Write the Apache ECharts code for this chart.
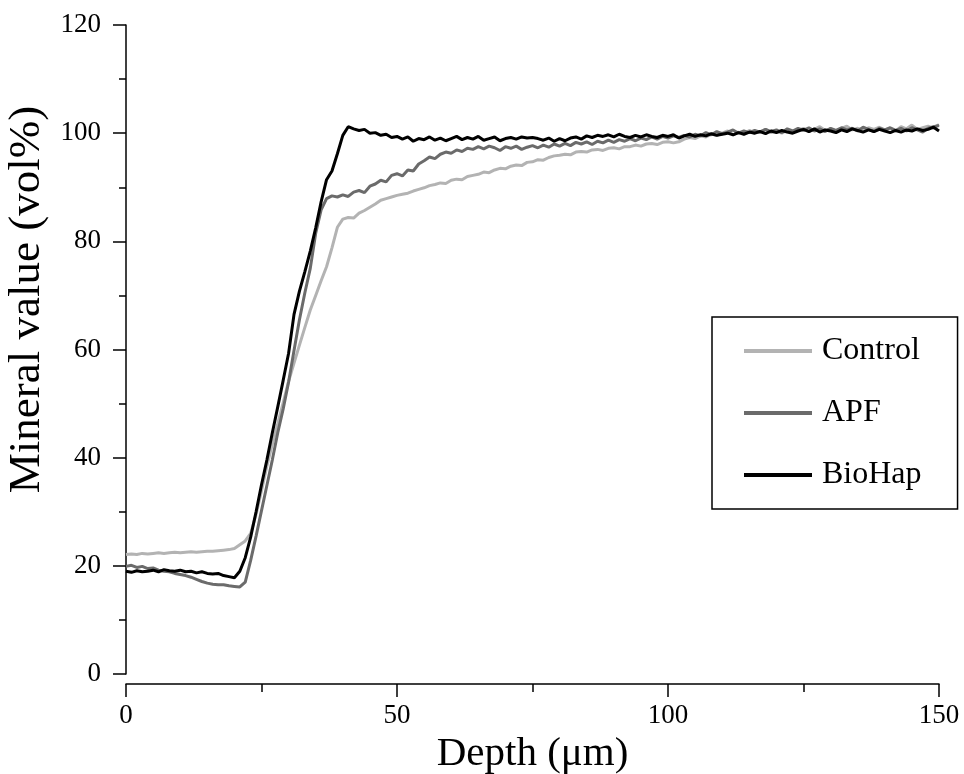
<!DOCTYPE html>
<html>
<head>
<meta charset="utf-8">
<script src="https://cdn.jsdelivr.net/npm/echarts@6/dist/echarts.min.js"></script>
<style>html,body{margin:0;padding:0;background:#fff;}#chart{width:964px;height:774px;}</style>
</head>
<body>
<div id="chart"></div>
<script>
// Depth (µm), one sample per µm
const depth = [];
for (let i = 0; i <= 150; i++) depth.push(i);

const control = [
22.1,22.2,22.1,22.3,22.2,22.3,22.4,22.3,22.4,22.5,
22.4,22.5,22.6,22.5,22.6,22.7,22.7,22.8,22.9,23.0,
23.2,23.9,24.6,26.0,29.5,33.9,38.5,42.5,46.3,50.2,
54.1,57.5,60.8,64.1,67.3,70.0,72.7,75.3,78.8,82.6,
84.1,84.4,84.3,85.2,85.7,86.3,86.9,87.6,87.9,88.2,
88.5,88.7,88.9,89.3,89.6,89.9,90.3,90.5,90.8,90.7,
91.3,91.5,91.4,92.0,92.2,92.4,92.8,92.7,93.2,93.5,
93.4,93.9,94.1,94.0,94.6,94.7,95.1,95.0,95.5,95.8,
95.9,96.1,96.0,96.5,96.6,96.5,96.9,97.0,96.8,97.2,
97.3,97.1,97.5,97.5,97.8,97.6,98.0,98.1,97.9,98.3,
98.4,98.2,98.4,98.9,99.2,99.0,99.5,99.3,99.8,99.6,
100.0,100.4,99.7,100.2,99.9,100.5,100.0,100.3,100.7,100.1,
100.4,100.0,100.6,100.2,100.5,100.9,100.3,100.7,101.2,100.5,
100.8,100.4,100.9,101.3,100.6,100.9,100.5,101.0,100.7,101.1,
100.6,100.9,100.4,101.2,100.8,101.5,100.7,101.0,101.3,100.9,
101.6
];

const apf = [
19.9,20.1,19.7,19.9,19.5,19.6,19.2,19.0,18.9,18.6,
18.4,18.2,17.9,17.5,17.1,16.8,16.6,16.5,16.5,16.3,
16.2,16.1,17.0,21.0,25.5,30.2,34.9,39.6,44.6,49.0,
54.0,59.8,65.5,70.5,75.0,81.5,85.8,87.9,88.4,88.2,
88.6,88.3,89.1,89.4,89.0,90.2,90.6,91.3,91.0,92.2,
92.5,92.1,93.2,93.0,94.3,94.9,95.6,95.3,96.1,96.5,
96.3,96.9,96.6,97.2,97.0,97.5,97.1,97.6,97.3,96.8,
97.5,97.2,97.6,97.0,97.4,97.7,97.3,97.8,97.4,98.0,
97.6,98.1,97.7,98.3,98.0,98.4,97.9,98.5,98.2,98.7,
98.3,98.8,98.5,99.0,98.6,99.1,98.8,99.3,98.9,99.4,
99.1,99.5,99.2,99.6,99.3,99.8,99.5,100.1,99.7,100.3,
99.9,100.2,100.6,100.0,100.4,100.1,100.5,100.2,100.7,100.3,
100.6,100.1,100.8,100.4,100.9,100.5,101.0,100.4,100.8,100.3,
100.9,100.5,101.0,100.6,100.9,100.4,101.1,100.7,100.3,100.9,
100.6,101.0,100.5,100.9,100.4,101.0,100.6,100.2,100.9,101.2,
101.4
];

const biohap = [
19.0,18.8,19.1,18.9,19.0,19.2,18.9,19.3,19.1,19.0,
19.2,18.9,19.0,18.7,18.9,18.6,18.5,18.6,18.2,18.0,
17.8,19.0,21.5,25.3,30.0,35.0,39.6,44.6,49.4,54.3,
59.3,66.5,70.8,74.4,78.2,82.5,87.3,91.4,93.0,96.2,
99.6,101.2,100.8,100.5,100.7,100.0,100.1,99.6,99.8,99.2,
99.4,98.9,99.3,98.5,99.0,98.8,99.3,98.7,99.1,98.6,
99.0,99.4,98.8,99.2,98.9,99.4,98.7,99.0,99.3,98.6,
99.0,99.2,98.9,99.3,99.1,99.2,99.0,98.7,99.1,98.5,
99.0,98.6,99.1,99.3,98.9,99.5,99.2,99.6,99.4,99.7,
99.3,99.8,99.4,99.2,99.6,99.3,99.7,99.4,99.2,99.6,
99.4,99.7,99.1,99.5,99.8,99.4,99.7,99.5,99.9,99.6,
99.8,100.0,99.7,100.1,99.8,100.2,100.0,100.3,99.9,100.4,
100.1,100.5,100.2,100.0,100.4,100.7,100.3,100.8,100.2,100.6,
100.4,100.1,100.6,100.3,100.8,100.5,100.2,100.6,100.3,100.7,
100.4,100.1,100.5,100.2,100.6,100.4,100.8,100.5,100.7,101.1,
100.4
];

const seriesNames = ['Control', 'APF', 'BioHap'];
const seriesColors = ['#b3b3b3', '#6b6b6b', '#000000'];
const seriesValues = [control, apf, biohap];

const FONT = 'Liberation Serif';
const chart = echarts.init(document.getElementById('chart'), null, {renderer: 'canvas'});

chart.setOption({
  animation: false,
  backgroundColor: '#fff',
  grid: {left: 126, right: 25, top: 25, bottom: 100, containLabel: false, outerBoundsMode: 'none'},
  legend: {
    orient: 'vertical',
    left: 712,
    top: 317,
    padding: [16, 36, 16, 32],
    itemGap: 26,
    itemWidth: 68,
    itemHeight: 4,
    icon: 'rect',
    borderColor: '#000',
    borderWidth: 1.5,
    backgroundColor: '#fff',
    textStyle: {fontFamily: FONT, fontSize: 32, color: '#000', lineHeight: 36, padding: [0, 0, 0, 5]},
    data: seriesNames.map((n, k) => ({name: n, icon: 'rect', itemStyle: {color: seriesColors[k]}}))
  },
  xAxis: {
    type: 'value',
    min: 0, max: 150, interval: 50,
    offset: 10,
    name: 'Depth (μm)',
    nameLocation: 'middle',
    nameGap: 50,
    nameTextStyle: {fontFamily: FONT, fontSize: 41, color: '#000'},
    axisLine: {show: true, onZero: false, lineStyle: {color: '#000', width: 1.5}},
    axisTick: {show: true, inside: false, length: 13, lineStyle: {color: '#000', width: 1.5}},
    minorTick: {show: true, splitNumber: 2, length: 8, lineStyle: {color: '#000', width: 1.5}},
    axisLabel: {fontFamily: FONT, fontSize: 27, color: '#000', margin: 18},
    splitLine: {show: false},
    minorSplitLine: {show: false}
  },
  yAxis: {
    type: 'value',
    min: 0, max: 120, interval: 20,
    name: 'Mineral value (vol%)',
    nameLocation: 'middle',
    nameRotate: 90,
    nameGap: 75,
    nameTextStyle: {fontFamily: FONT, fontSize: 45, color: '#000', padding: [0, 0, 0, 100]},
    axisLine: {show: true, onZero: false, lineStyle: {color: '#000', width: 1.5}},
    axisTick: {show: true, inside: false, length: 13, lineStyle: {color: '#000', width: 1.5}},
    minorTick: {show: true, splitNumber: 2, length: 7, lineStyle: {color: '#000', width: 1.5}},
    axisLabel: {fontFamily: FONT, fontSize: 27, color: '#000', margin: 25},
    splitLine: {show: false},
    minorSplitLine: {show: false}
  },
  series: seriesNames.map((name, k) => ({
    name: name,
    type: 'line',
    symbol: 'none',
    showSymbol: false,
    color: seriesColors[k],
    lineStyle: {color: seriesColors[k], width: 3},
    data: depth.map((d, i) => [d, seriesValues[k][i]]),
    z: 2 + k
  }))
});
</script>
</body>
</html>
